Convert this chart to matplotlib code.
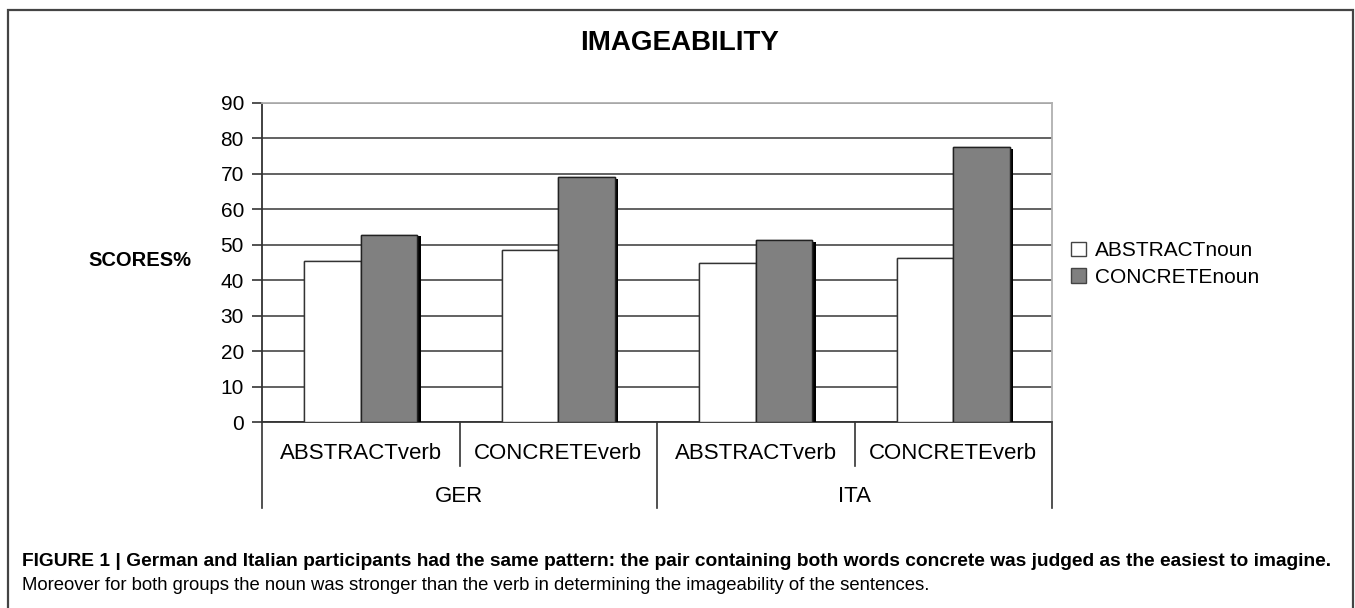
import matplotlib
matplotlib.use('Agg')
import matplotlib.pyplot as plt
import matplotlib.patheffects as pe
from matplotlib.patches import Rectangle
import numpy as np

plt.rcParams['font.family'] = ['Liberation Sans', 'DejaVu Sans']

# data
verbs = ['ABSTRACTverb', 'CONCRETEverb', 'ABSTRACTverb', 'CONCRETEverb']
groups = ['GER', 'ITA']
abstract_noun = [45.4, 48.4, 45.0, 46.2]
concrete_noun = [52.8, 69.0, 51.3, 77.5]
series_names = ['ABSTRACTnoun', 'CONCRETEnoun']
y_ticks = [0, 10, 20, 30, 40, 50, 60, 70, 80, 90]

W, H = 1355, 608
fig = plt.figure(figsize=(W / 100, H / 100), dpi=100)
ax = fig.add_axes([262 / W, 186 / H, 790 / W, 319 / H])

x = np.arange(len(verbs))
bw = 0.2857
shadow = [pe.withSimplePatchShadow(offset=(2.5, -1), shadow_rgbFace='black', alpha=1.0), pe.Normal()]
b1 = ax.bar(x - bw / 2, abstract_noun, bw, color='white', edgecolor='#333333',
            linewidth=1.0, zorder=3, label=series_names[0])
b2 = ax.bar(x + bw / 2, concrete_noun, bw, color='#808080', edgecolor='#222222',
            linewidth=1.0, zorder=4, label=series_names[1])
for p in list(b1) + list(b2):
    p.set_path_effects(shadow)

ax.set_xlim(-0.5, len(verbs) - 0.5)
ax.set_ylim(0, 90)
ax.set_yticks(y_ticks)
ax.yaxis.grid(True, color='#555555', linewidth=1.3, zorder=0)
ax.set_axisbelow(True)
ax.tick_params(axis='y', direction='out', length=7, width=1.2, color='#333333',
               labelsize=15, pad=6)
ax.set_xticks([])
for s in ['left', 'bottom']:
    ax.spines[s].set_color('#333333')
    ax.spines[s].set_linewidth(1.3)
for s in ['top', 'right']:
    ax.spines[s].set_color('#b0b0b0')
    ax.spines[s].set_linewidth(1.3)

# two-level category axis
trans = ax.get_xaxis_transform()
for i, v in enumerate(verbs):
    ax.text(i, -0.100, v, transform=trans, ha='center', va='center', fontsize=16)
for j, g in enumerate(groups):
    ax.text(j * 2 + 0.5, -0.235, g, transform=trans, ha='center', va='center', fontsize=16)
for b in np.arange(-0.5, len(verbs), 1.0):
    low = -0.27 if (b + 0.5) % 2 == 0 else -0.138
    ax.plot([b, b], [0, low], transform=trans, color='#333333', lw=1.2, clip_on=False)

fig.text(680 / W, 1 - 43 / H, 'IMAGEABILITY', ha='center', va='center',
         fontsize=20, fontweight='bold')
fig.text(140 / W, 1 - 261 / H, 'SCORES%', ha='center', va='center',
         fontsize=14.5, fontweight='bold')

leg = fig.legend(handles=[b1, b2], labels=series_names, loc='center left',
                 bbox_to_anchor=(1071 / W, 1 - 264 / H), frameon=False,
                 fontsize=15, handlelength=0.7, handleheight=0.7,
                 handletextpad=0.45, labelspacing=0.35, borderpad=0, borderaxespad=0)
for h in leg.legend_handles:
    h.set_path_effects([])
    h.set_edgecolor('#444444')

# caption
fig.text(22 / W, 1 - 562 / H,
         'FIGURE 1 | German and Italian participants had the same pattern: the pair containing '
         'both words concrete was judged as the easiest to imagine.',
         ha='left', va='center', fontsize=13.8, fontweight='bold')
fig.text(22 / W, 1 - 586 / H,
         'Moreover for both groups the noun was stronger than the verb in determining '
         'the imageability of the sentences.',
         ha='left', va='center', fontsize=13.3)

# outer frame
fig.add_artist(Rectangle((8 / W, -0.05), (1353 - 8) / W, 1.05 - 10 / H,
                         transform=fig.transFigure, fill=False, edgecolor='#444444', lw=1.6))

fig.savefig('out.png', dpi=100)
